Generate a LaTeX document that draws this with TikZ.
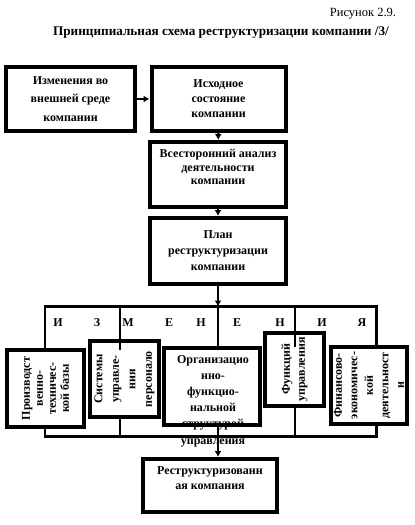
\documentclass[tikz,border=0pt]{standalone}
\usepackage{fontspec}
\setmainfont{Liberation Serif}
\usetikzlibrary{arrows.meta}

\tikzset{box_style/.style={draw, line width=4pt, align=center, inner sep=2pt, font=\bfseries\fontsize{12}{15}\selectfont}}
\tikzset{line_style/.style={line width=2.5pt}}
\tikzset{arrow_style/.style={line width=2pt, -{Latex[length=6pt,width=7pt]}}}
\tikzset{letter_style/.style={font=\bfseries\fontsize{12}{14}\selectfont}}

\begin{document}
\begin{tikzpicture}[x=1pt, y=-1pt]
    \useasboundingbox (0,0) rectangle (415,525);

    \node[font=\fontsize{12.5}{14}\selectfont] (fig) at (363,14) {Рисунок 2.9.};
    \node[font=\bfseries\fontsize{13.2}{15}\selectfont] (title) at (221,33) {Принципиальная схема реструктуризации компании /3/};

    \node[box_style, minimum width=129pt, minimum height=64pt, font=\bfseries\fontsize{12}{18.5}\selectfont] (change) at (70.5,99) {Изменения во\\внешней среде\\компании};
    \node[box_style, minimum width=134pt, minimum height=64pt] (initial) at (218.5,99) {Исходное\\состояние\\компании};
    \node[box_style, minimum width=136pt, minimum height=65pt, text depth=15pt, font=\bfseries\fontsize{12}{13.5}\selectfont] (analysis) at (218,174.5) {Всесторонний анализ\\деятельности\\компании};
    \node[box_style, minimum width=136pt, minimum height=66pt, font=\bfseries\fontsize{12}{16}\selectfont] (plan) at (218,251) {План\\реструктуризации\\компании};

    \foreach \l/\x [count=\i] in {И/58, З/97, М/128, Е/169, Н/201, Е/237, Н/280, И/322, Я/362}
        \node[letter_style] (l\i) at (\x,322.5) {\l};

    \node[box_style, rotate=90, minimum width=77pt, minimum height=77pt, font=\bfseries\fontsize{12}{13}\selectfont] (prod) at (45.5,388.5) {Производст\\венно-\\техничес-\\кой базы};
    \node[box_style, rotate=90, minimum width=76pt, minimum height=69pt, font=\bfseries\fontsize{12}{16.5}\selectfont] (staff) at (124.5,379) {Системы\\управле-\\ния\\персонало};
    \node[box_style, minimum width=96pt, minimum height=77pt] (org) at (212,386.5) {};
    \node[box_style, rotate=90, minimum width=73pt, minimum height=59pt] (func) at (294.5,369.5) {Функций\\управления};
    \node[box_style, rotate=90, minimum width=77pt, minimum height=76pt, font=\bfseries\fontsize{12}{15.5}\selectfont] (fin) at (369,385.5) {Финансово-\\экономичес-\\кой\\деятельност\\и};

    \node[box_style, minimum width=134pt, minimum height=53pt, text depth=15pt] (result) at (210,485.5) {Реструктуризованн\\ая компания};

    % bars
    \coordinate (tb_l) at (45,306.5);
    \coordinate (tb_2) at (120,306.5);
    \coordinate (tb_m) at (218,306.5);
    \coordinate (tb_4) at (295,306.5);
    \coordinate (tb_r) at (376.5,306.5);
    \coordinate (bb_l) at (45,436.5);
    \coordinate (bb_2) at (120,436.5);
    \coordinate (bb_m) at (218,436.5);
    \coordinate (bb_4) at (295,436.5);
    \coordinate (bb_r) at (376.5,436.5);
    \coordinate (staff_in) at (120,350);
    \coordinate (func_in) at (295,347);

    \draw[line_style] (tb_l |- prod.east) -- (tb_l) -- (tb_r) -- (tb_r |- fin.east);
    \draw[line_style] (tb_2) -- (staff_in);
    \draw[line_style] (tb_m) -- (tb_m |- org.north);
    \draw[line_style] (tb_4) -- (func_in);
    \draw[line_style] (bb_l |- prod.west) -- (bb_l) -- (bb_r) -- (bb_r |- fin.west);
    \draw[line_style] (bb_2) -- (bb_2 |- staff.west);
    \draw[line_style] (bb_m) -- (bb_m |- org.south);
    \draw[line_style] (bb_4) -- (bb_4 |- func.west);

    \draw[arrow_style] (change) -- (initial);
    \draw[arrow_style] (initial) -- (analysis);
    \draw[arrow_style] (analysis) -- (plan);
    \draw[arrow_style] (plan) -- (tb_m);
    \draw[arrow_style] (bb_m) -- (bb_m |- result.north);

    \node[anchor=north, inner sep=0pt, align=center, font=\bfseries\fontsize{12}{16.2}\selectfont] (org_text) at (213,355) {Организацио\\нно-\\функцио-\\нальной\\структурой\\управления};

\end{tikzpicture}
\end{document}
